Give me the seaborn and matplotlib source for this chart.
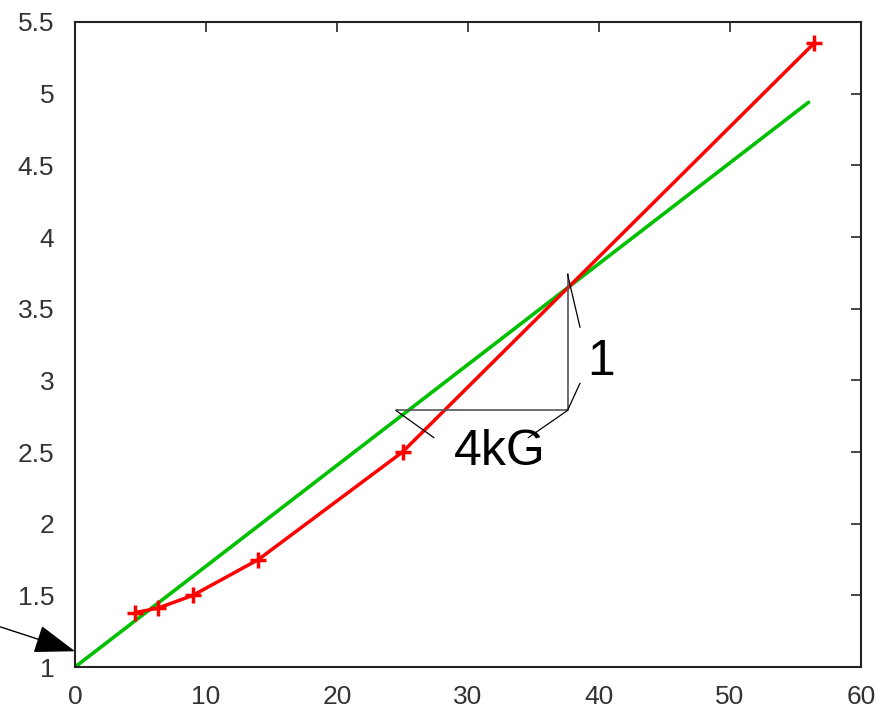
import numpy as np
import pandas as pd
import seaborn as sns
import matplotlib
matplotlib.use("Agg")
import matplotlib.pyplot as plt

# measured points (red, with markers)
meas_x = [4.6, 6.3, 9.0, 14.0, 25.0, 56.4]
meas_y = [1.38, 1.41, 1.50, 1.75, 2.50, 5.35]

# straight reference line (green)
ref_x = [0.0, 56.0]
ref_y = [1.0, 4.94]

# slope triangle
tri_x = [24.5, 37.6, 37.6]
tri_y = [2.79, 2.79, 3.74]

x_ticks = [0, 10, 20, 30, 40, 50, 60]
y_ticks = [1, 1.5, 2, 2.5, 3, 3.5, 4, 4.5, 5, 5.5]

sns.set_style("white")
plt.rcParams['font.family'] = ['Liberation Sans', 'DejaVu Sans']

fig = plt.figure(figsize=(8.91, 7.14), dpi=100)
ax = fig.add_axes([0.0842, 0.0658, 0.9663 - 0.0842, 0.9692 - 0.0658])

ref = pd.DataFrame({"x": ref_x, "y": ref_y})
meas = pd.DataFrame({"x": meas_x, "y": meas_y})

sns.lineplot(data=ref, x="x", y="y", color="#00c000", lw=2.6, ax=ax)
sns.lineplot(data=meas, x="x", y="y", color="#ff0000", lw=2.5, marker="+",
             markersize=12, markeredgewidth=2.5, markeredgecolor="#ff0000", ax=ax)

# triangle and its label leaders
ax.plot(tri_x, tri_y, color="#555555", lw=1.2)
ax.plot([24.5, 27.4], [2.79, 2.60], color="black", lw=0.9)
ax.plot([37.6, 34.6], [2.79, 2.60], color="black", lw=0.9)
ax.plot([37.6, 38.55], [3.74, 3.37], color="black", lw=0.9)
ax.plot([37.6, 38.55], [2.79, 2.98], color="black", lw=0.9)
ax.text(32.4, 2.50, "4kG", fontsize=36, ha="center", va="center", color="black")
ax.text(40.2, 3.13, "1", fontsize=36, ha="center", va="center", color="black")

# arrow pointing at the intercept
ax.annotate("", xy=(0, 1.11), xytext=(-5.7, 1.28), annotation_clip=False,
            arrowprops=dict(arrowstyle="-|>,head_length=1.3,head_width=0.45",
                            color="black", lw=1, shrinkA=0, shrinkB=0,
                            mutation_scale=20))

ax.set_xlim(0, 60)
ax.set_ylim(1, 5.5)
ax.set_xticks(x_ticks)
ax.set_yticks(y_ticks)
ax.set_xticklabels([str(t) for t in x_ticks])
ax.set_yticklabels([f"{t:g}" for t in y_ticks])
ax.set_xlabel("")
ax.set_ylabel("")
ax.tick_params(direction="in", length=7, width=1.2, top=True, right=True,
               labelsize=19, labelcolor="#333333")
ax.tick_params(axis="y", pad=15)
ax.tick_params(axis="x", pad=13)
for s in ax.spines.values():
    s.set_visible(True)
    s.set_color("#222222")
    s.set_linewidth(1.5)

fig.savefig("out.png", dpi=100)
